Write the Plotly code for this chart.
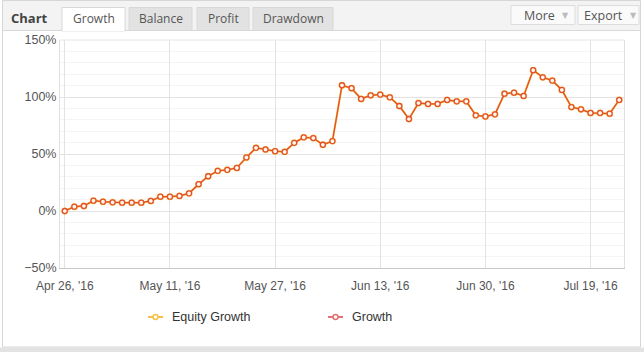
import plotly.graph_objects as go

# ---- data ----
growth = [0, 3.8, 4.4, 9.1, 8.2, 7.6, 7.3, 7.3, 7.3, 8.8,
          12.6, 12.6, 13.2, 15.5, 23.5, 30.5, 35.2, 36.1, 37.8, 47.0,
          55.4, 54.0, 52.5, 51.9, 59.8, 64.6, 64.0, 58.1, 61.3, 110.3,
          107.7, 98.3, 101.5, 102.1, 99.7, 92.1, 80.7, 94.7, 93.9, 93.9,
          97.4, 96.2, 96.2, 83.9, 83.0, 84.8, 102.9, 103.8, 100.9, 123.5,
          117.3, 114.4, 106.2, 91.2, 89.2, 86.0, 86.0, 85.4, 97.4]
equity_growth = list(growth)
tick_index = [0, 11, 22, 33, 44, 55]
tick_labels = ["Apr 26, '16", "May 11, '16", "May 27, '16", "Jun 13, '16", "Jun 30, '16", "Jul 19, '16"]
tabs = ["Growth", "Balance", "Profit", "Drawdown"]
legend_names = ["Equity Growth", "Growth"]
legend_colors = ["#F6C244", "#E57373"]

W, H = 644, 352
L, R, T, B = 60, 20, 40, 84
PW, PH = W - L - R, H - T - B


def px(x):
    return (x - L) / PW


def py(y):
    return (H - B - y) / PH


xs = list(range(len(growth)))

fig = go.Figure()
fig.add_trace(go.Scatter(
    x=xs, y=equity_growth, mode="lines+markers", name="Equity Growth", showlegend=False,
    line=dict(color="#F7B733", width=2),
    marker=dict(size=7, color="#F9C74F", line=dict(width=0)),
    hoverinfo="skip"))
fig.add_trace(go.Scatter(
    x=xs, y=growth, mode="lines+markers", name="Growth", showlegend=False,
    line=dict(color="#E2512C", width=1.3),
    marker=dict(size=5, color="#FFF6EC", line=dict(color="#E2512C", width=1.3))))

shapes = []
annotations = []
# outer box and bottom band
shapes.append(dict(type="rect", xref="paper", yref="paper", x0=px(0), x1=px(644), y0=py(347.5), y1=py(352),
                   fillcolor="#E3E3E3", line=dict(width=0), layer="below"))
shapes.append(dict(type="rect", xref="paper", yref="paper", x0=px(2.5), x1=px(640.5), y0=py(347), y1=py(0.5),
                   fillcolor="white", line=dict(color="#D6D6D6", width=1), layer="below"))
# header strip
shapes.append(dict(type="rect", xref="paper", yref="paper", x0=px(3), x1=px(640), y0=py(30), y1=py(1),
                   fillcolor="#F3F3F3", line=dict(width=0), layer="below"))
shapes.append(dict(type="line", xref="paper", yref="paper", x0=px(3), x1=px(640), y0=py(30.5), y1=py(30.5),
                   line=dict(color="#D8D8D8", width=1), layer="below"))

tab_x = [(62, 125), (129, 192), (197, 249), (253, 333)]
for i, (name, (a, b)) in enumerate(zip(tabs, tab_x)):
    active = i == 0
    shapes.append(dict(type="rect", xref="paper", yref="paper", x0=px(a), x1=px(b),
                       y0=py(31 if active else 30.5), y1=py(7.5),
                       fillcolor="white" if active else "#E2E2E2",
                       line=dict(color="#D8D8D8", width=1), layer="below"))
    if active:
        shapes.append(dict(type="line", xref="paper", yref="paper", x0=px(a + 0.5), x1=px(b - 0.5),
                           y0=py(30.5), y1=py(30.5), line=dict(color="white", width=1.5), layer="below"))
    annotations.append(dict(text=name, xref="paper", yref="paper", x=px((a + b) / 2), y=py(18.5),
                            showarrow=False, xanchor="center", yanchor="middle",
                            font=dict(family="Open Sans", size=12, color="#555555")))
annotations.append(dict(text="<b>Chart</b>", xref="paper", yref="paper", x=px(29.5), y=py(17.5),
                        showarrow=False, xanchor="center", yanchor="middle",
                        font=dict(family="Open Sans", size=13, color="#444444")))
for label, (a, b) in [("More", (511, 575)), ("Export", (578, 639))]:
    shapes.append(dict(type="rect", xref="paper", yref="paper", x0=px(a), x1=px(b), y0=py(24.5), y1=py(5.5),
                       fillcolor="#FAFAFA", line=dict(color="#DDDDDD", width=1), layer="below"))
    tx = (a + b) / 2 - 4 if label == "More" else (a + b) / 2 - 5
    annotations.append(dict(text=label, xref="paper", yref="paper", x=px(tx), y=py(15.5),
                            showarrow=False, xanchor="center", yanchor="middle",
                            font=dict(family="Open Sans", size=12.5, color="#555555")))
    annotations.append(dict(text="▼", xref="paper", yref="paper",
                            x=px(b - 10 if label == "More" else b - 6), y=py(15),
                            showarrow=False, xanchor="center", yanchor="middle",
                            font=dict(family="DejaVu Sans", size=8, color="#BBBBBB")))

# legend (drawn as symbols + text)
for name, col, sx in zip(legend_names, legend_colors, [148, 328]):
    shapes.append(dict(type="line", xref="paper", yref="paper", x0=px(sx), x1=px(sx + 15),
                       y0=py(317), y1=py(317), line=dict(color=col, width=2)))
    shapes.append(dict(type="circle", xref="paper", yref="paper", x0=px(sx + 5), x1=px(sx + 10),
                       y0=py(319.5), y1=py(314.5), fillcolor="white", line=dict(color=col, width=1.5)))
    annotations.append(dict(text=name, xref="paper", yref="paper", x=px(sx + 22), y=py(317),
                            showarrow=False, xanchor="left", yanchor="middle",
                            font=dict(family="Liberation Sans", size=12.5, color="#333333")))

fig.update_layout(
    width=W, height=H, margin=dict(l=L, r=R, t=T, b=B),
    paper_bgcolor="white", plot_bgcolor="white",
    shapes=shapes, annotations=annotations,
    showlegend=False,
    xaxis=dict(range=[-0.5, len(growth) - 0.5], tickmode="array", tickvals=tick_index, ticktext=tick_labels,
               showgrid=True, gridcolor="#E3E3E3", gridwidth=1,
               showline=True, linecolor="#C8C8C8", linewidth=1, mirror=False,
               ticks="outside", ticklen=7, tickcolor="rgba(0,0,0,0)",
               tickfont=dict(family="Liberation Sans", size=12, color="#555555"), zeroline=False),
    yaxis=dict(range=[-50, 150], dtick=50, ticksuffix="%", showgrid=True, gridcolor="#E3E3E3",
               minor=dict(dtick=10, showgrid=True, gridcolor="#F4F4F4"),
               showline=True, linecolor="#E0E0E0", mirror=True, zeroline=False,
               tickfont=dict(family="Liberation Sans", size=12.5, color="#555555")),
)
fig.add_shape(type="line", xref="paper", yref="paper", x0=0, x1=1, y0=1, y1=1,
              line=dict(color="#E6E6E6", width=1))

fig.write_html("out.html")
